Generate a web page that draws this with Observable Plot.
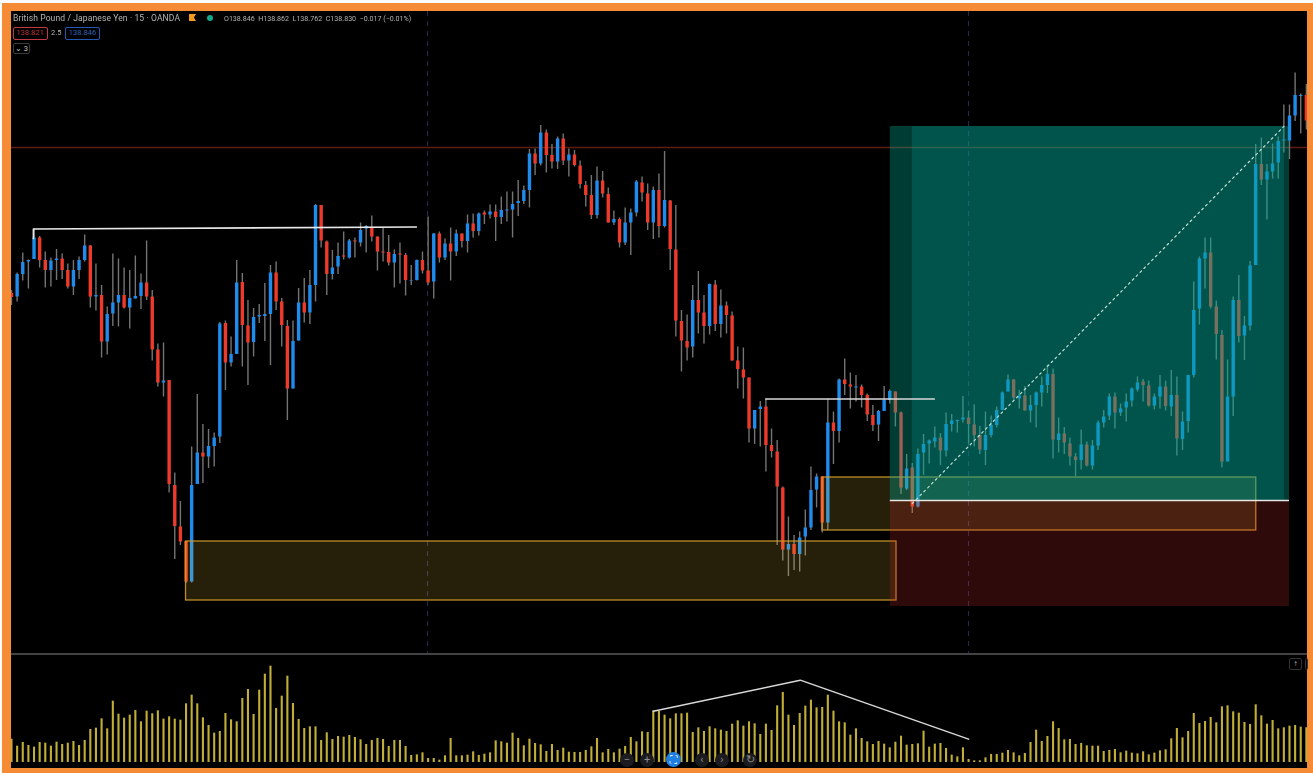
<!DOCTYPE html>
<html>
<head>
<meta charset="utf-8">
<script src="https://cdn.jsdelivr.net/npm/d3@7"></script>
<script src="https://cdn.jsdelivr.net/npm/@observablehq/plot@0.6"></script>
<style>
html,body{margin:0;padding:0;background:#fff;overflow:hidden}
#root{position:relative;width:1313px;height:773px;overflow:hidden;background:#fbfbfb;font-family:Roboto,"Liberation Sans",sans-serif}
#frame{position:absolute;left:2px;top:3px;right:0;bottom:0;background:#f68b35}
#screen{position:absolute;left:11px;top:11px;width:1296px;height:757px;background:#000;overflow:hidden}
#price,#volume{position:absolute;left:0;filter:blur(.5px)}
#price{top:0}
#volume{top:644px}
#sep{position:absolute;left:0;right:0;top:642px;height:2px;background:#434343}
.t{position:absolute;white-space:nowrap;color:#b4b4b4;filter:blur(.3px)}
.box{position:absolute;box-sizing:border-box;border-radius:2px;text-align:center;white-space:nowrap}
.btn{position:absolute;width:14px;height:14px;border-radius:50%;background:#1c1c20;color:#8d8d8d;font-size:11px;line-height:14px;text-align:center}
</style>
</head>
<body>
<div id="root"><div id="frame"></div><div id="screen"></div></div>
<script>
const highs=[138.46,138.495,138.535,138.521,138.583,138.568,138.537,138.525,138.542,138.533,
138.513,138.52,138.527,138.571,138.55,138.513,138.47,138.427,138.533,138.523,
138.505,138.5,138.529,138.493,138.559,138.46,138.353,138.355,138.28,138.095,
138.038,137.958,138.147,138.252,138.192,138.182,138.175,138.396,138.399,138.367,
138.52,138.494,138.44,138.424,138.432,138.474,138.51,138.517,138.444,138.4,
138.399,138.464,138.484,138.5,138.632,138.63,138.559,138.54,138.555,138.577,
138.562,138.565,138.595,138.59,138.609,138.567,138.584,138.57,138.541,138.555,
138.534,138.51,138.521,138.537,138.607,138.574,138.577,138.563,138.585,138.581,
138.573,138.611,138.613,138.615,138.619,138.631,138.631,138.647,138.657,138.657,
138.68,138.669,138.742,138.743,138.79,138.781,138.752,138.767,138.773,138.743,
138.74,138.719,138.678,138.69,138.707,138.698,138.665,138.619,138.605,138.625,
138.623,138.68,138.687,138.673,138.667,138.693,138.738,138.64,138.63,138.42,
138.411,138.47,138.498,138.45,138.473,138.48,138.461,138.437,138.417,138.347,
138.345,138.285,138.22,138.238,138.243,138.183,138.16,138.067,138.007,137.97,
137.977,138.021,138.107,138.093,138.087,138.243,138.217,138.283,138.323,138.295,
138.29,138.271,138.253,138.23,138.22,138.268,138.261,138.257,138.217,138.132,
138.114,138.143,138.172,138.161,138.187,138.174,138.215,138.212,138.201,138.248,
138.219,138.231,138.188,138.217,138.209,138.227,138.257,138.291,138.282,138.26,
138.268,138.25,138.257,138.287,138.311,138.303,138.205,138.186,138.165,138.134,
138.181,138.157,138.16,138.199,138.22,138.253,138.255,138.233,138.253,138.265,
138.287,138.282,138.279,138.253,138.29,138.279,138.3,138.287,138.217,138.29,
138.477,138.527,138.565,138.565,138.439,138.38,138.321,138.447,138.49,138.408,
138.518,138.752,138.765,138.712,138.753,138.767,138.831,138.831,138.895,138.853,138.872];
const opens=[138.454,138.447,138.492,138.517,138.522,138.565,138.52,138.5,138.52,138.523,
138.5,138.467,138.5,138.52,138.549,138.447,138.45,138.357,138.413,138.435,
138.45,138.425,138.443,138.448,138.475,138.447,138.341,138.275,138.28,138.07,
137.987,137.958,137.877,138.072,138.135,138.127,138.148,138.167,138.394,138.315,
138.332,138.476,138.389,138.356,138.407,138.408,138.412,138.495,138.437,138.388,
138.263,138.359,138.435,138.415,138.47,138.63,138.557,138.492,138.507,138.529,
138.525,138.559,138.555,138.583,138.585,138.567,138.537,138.536,138.515,138.533,
138.53,138.479,138.48,138.52,138.499,138.477,138.573,138.525,138.553,138.537,
138.573,138.558,138.593,138.578,138.615,138.611,138.617,138.606,138.619,138.621,
138.634,138.638,138.66,138.733,138.713,138.775,138.73,138.717,138.763,138.719,
138.731,138.709,138.67,138.65,138.61,138.679,138.652,138.595,138.602,138.555,
138.595,138.615,138.675,138.653,138.595,138.66,138.588,138.639,138.541,138.398,
138.358,138.347,138.44,138.415,138.388,138.471,138.392,138.429,138.409,138.319,
138.301,138.285,138.183,138.222,138.227,138.15,138.137,138.065,137.941,137.952,
137.932,137.967,137.985,138.061,138.087,137.995,138.195,138.178,138.281,138.271,
138.265,138.267,138.25,138.21,138.191,138.218,138.24,138.257,138.215,138.063,
138.105,138.027,138.135,138.153,138.157,138.165,138.139,138.192,138.198,138.201,
138.205,138.191,138.17,138.14,138.17,138.19,138.22,138.257,138.281,138.243,
138.249,138.219,138.23,138.255,138.27,138.292,138.16,138.173,138.153,138.127,
138.12,138.151,138.109,138.149,138.195,138.209,138.247,138.215,138.225,138.239,
138.261,138.277,138.269,138.229,138.247,138.267,138.227,138.25,138.162,138.198,
138.29,138.423,138.523,138.535,138.427,138.37,138.117,138.247,138.44,138.369,
138.389,138.51,138.712,138.681,138.697,138.715,138.759,138.759,138.809,138.848,138.85];
const lows=[138.43,138.437,138.479,138.463,138.522,138.505,138.465,138.467,138.48,138.482,
138.463,138.45,138.482,138.517,138.425,138.419,138.325,138.331,138.388,138.387,
138.423,138.383,138.443,138.422,138.44,138.319,138.267,138.247,138.055,137.922,
137.95,137.874,137.875,138.072,138.074,138.104,138.107,138.154,138.26,138.307,
138.332,138.307,138.27,138.327,138.394,138.358,138.31,138.42,138.347,138.2,
138.263,138.359,138.395,138.392,138.437,138.545,138.45,138.481,138.492,138.521,
138.523,138.525,138.547,138.535,138.557,138.499,138.517,138.509,138.465,138.473,
138.449,138.47,138.479,138.493,138.47,138.443,138.515,138.52,138.479,138.528,
138.545,138.535,138.565,138.569,138.592,138.603,138.558,138.592,138.597,138.565,
138.608,138.632,138.625,138.69,138.709,138.695,138.703,138.702,138.71,138.687,
138.707,138.663,138.627,138.602,138.603,138.645,138.595,138.59,138.545,138.55,
138.53,138.607,138.637,138.58,138.562,138.565,138.585,138.5,138.367,138.297,
138.319,138.325,138.373,138.353,138.371,138.378,138.365,138.373,138.319,138.263,
138.243,138.155,138.152,138.147,138.097,138.125,137.95,137.919,137.888,137.9,
137.897,137.929,137.98,138.025,137.975,137.98,138.112,138.155,138.25,138.223,
138.237,138.225,138.198,138.178,138.158,138.218,138.233,138.187,138.052,138.06,
138.014,138.025,138.09,138.113,138.145,138.11,138.127,138.177,138.175,138.195,
138.153,138.147,138.132,138.11,138.165,138.185,138.22,138.257,138.241,138.223,
138.219,138.195,138.185,138.227,138.254,138.123,138.135,138.132,138.109,138.088,
138.101,138.107,138.101,138.14,138.185,138.2,138.183,138.208,138.197,138.227,
138.257,138.237,138.227,138.221,138.223,138.219,138.208,138.129,138.14,138.175,
138.285,138.391,138.463,138.423,138.321,138.105,138.117,138.208,138.355,138.32,
138.379,138.51,138.67,138.601,138.683,138.683,138.735,138.722,138.798,138.773,138.781];
const closes=[138.446,138.492,138.516,138.52,138.565,138.52,138.5,138.519,138.523,138.5,
138.467,138.5,138.52,138.549,138.447,138.45,138.357,138.412,138.435,138.45,
138.425,138.444,138.448,138.475,138.447,138.341,138.275,138.279,138.072,137.988,
137.957,137.877,138.07,138.135,138.127,138.148,138.165,138.393,138.315,138.332,
138.475,138.39,138.355,138.406,138.41,138.412,138.495,138.437,138.39,138.263,
138.358,138.435,138.415,138.47,138.63,138.559,138.492,138.505,138.528,138.527,
138.559,138.557,138.58,138.588,138.567,138.537,138.535,138.515,138.532,138.531,
138.48,138.48,138.52,138.499,138.475,138.573,138.525,138.553,138.537,138.573,
138.558,138.593,138.578,138.613,138.611,138.617,138.606,138.62,138.621,138.632,
138.638,138.66,138.733,138.713,138.775,138.73,138.717,138.763,138.719,138.731,
138.71,138.672,138.65,138.61,138.679,138.653,138.595,138.602,138.555,138.595,
138.615,138.677,138.655,138.595,138.66,138.588,138.64,138.542,138.399,138.359,
138.345,138.44,138.415,138.388,138.472,138.392,138.429,138.41,138.319,138.302,
138.285,138.183,138.22,138.227,138.15,138.138,138.067,137.941,137.952,137.932,
137.965,137.985,138.06,138.087,137.995,138.195,138.178,138.281,138.272,138.267,
138.267,138.25,138.211,138.19,138.218,138.24,138.258,138.215,138.065,138.103,
138.027,138.132,138.152,138.159,138.165,138.139,138.192,138.199,138.2,138.205,
138.192,138.17,138.141,138.17,138.19,138.22,138.255,138.281,138.245,138.249,
138.219,138.23,138.255,138.27,138.292,138.161,138.173,138.155,138.127,138.12,
138.151,138.109,138.149,138.195,138.207,138.247,138.215,138.223,138.237,138.263,
138.275,138.27,138.229,138.247,138.267,138.228,138.25,138.163,138.197,138.29,
138.42,138.523,138.535,138.427,138.372,138.117,138.247,138.44,138.368,138.389,
138.509,138.712,138.681,138.697,138.713,138.758,138.761,138.809,138.85,138.85,138.799];
const volumes=[70,49,60,51,46,60,58,49,61,54,58,63,51,66,99,103,131,101,184,145,
133,142,156,122,154,146,155,130,137,130,127,176,202,176,134,111,88,93,147,128,
122,192,219,144,217,265,289,162,199,259,177,129,102,107,107,66,89,69,78,76,
81,75,68,54,66,72,69,48,66,66,48,21,23,29,12,12,7,20,72,20,
20,22,32,21,25,29,65,62,58,88,72,50,70,57,53,33,54,36,43,31,
30,30,36,47,72,29,39,29,40,48,75,62,92,90,155,153,142,131,146,146,
148,90,104,93,107,101,97,93,115,125,109,122,116,84,115,96,170,210,142,111,
147,169,187,164,165,202,154,122,119,82,101,72,62,54,63,55,44,61,79,52,
54,56,94,46,55,57,42,22,17,44,9,5,5,14,24,24,28,36,29,20,
27,60,97,63,78,122,102,68,69,54,57,50,49,49,33,36,39,29,34,28,
26,32,23,28,35,38,71,102,74,93,147,117,123,135,119,167,170,152,148,120,
114,173,140,115,126,101,104,109,111,106,104];

const header="British Pound / Japanese Yen · 15 · OANDA";
const ohlcLabel="O138.846  H138.862  L138.762  C138.830  −0.017 (−0.01%)";
const bidLabel="138.821", spreadLabel="2.5", askLabel="138.846", collapseLabel="⌄ 3";

const sessionBreaks=[73.9,170];
const resistanceLevel=[138.746];
const swingA=[{i:3.9,p:138.564},{i:3.9,p:138.583},{i:71.9,p:138.587}];
const swingB=[{i:134,p:138.243},{i:163.9,p:138.243}];
const demandZones=[{a:31,b:157.2,top:137.958,bottom:137.84},{a:144.05,b:221.1,top:138.086,bottom:137.98}];
const longOuter={a:156.1,b:227,top:138.788,entry:138.04,stop:137.828};
const longInner={a:160,b:226.1};
const targetPath=[{i:160,p:138.034},{i:226,p:138.788}];
const volumeTrend=[{i:114,v:154},{i:140.1,v:247},{i:170,v:70}];

const candles=highs.map((h,i)=>({i,high:h,open:opens[i],low:lows[i],close:closes[i]}));
const bars=volumes.map((v,i)=>({i,v}));
const xDomain=[0,230.2];
const BLUE="#1f8bec",RED="#ee3a2a";

const pricePlot=Plot.plot({
  width:1296,height:643,margin:0,
  style:{background:"transparent",overflow:"hidden"},
  x:{domain:xDomain,axis:null},
  y:{domain:[137.732,139.018],axis:null},
  marks:[
    Plot.ruleX(sessionBreaks,{x:d=>d,stroke:"#2b2b58",strokeWidth:1,strokeDasharray:"5,5"}),
    Plot.ruleY(resistanceLevel,{y:d=>d,stroke:"#601c10",strokeWidth:1.3}),
    Plot.ruleX(candles,{x:"i",y1:"low",y2:"high",stroke:"#747474",strokeWidth:1.4}),
    Plot.ruleX(candles,{x:"i",y1:"open",y2:"close",stroke:d=>d.close>=d.open?BLUE:RED,strokeWidth:3.4}),
    Plot.rect(demandZones,{x1:"a",x2:"b",y1:"bottom",y2:"top",fill:"#ffd740",fillOpacity:.15,stroke:"#d09a2a",strokeWidth:1.3,strokeOpacity:.9}),
    Plot.rect([longOuter],{x1:"a",x2:"b",y1:"entry",y2:"top",fill:"#00a896",fillOpacity:.35}),
    Plot.rect([{...longInner,entry:longOuter.entry,top:longOuter.top}],{x1:"a",x2:"b",y1:"entry",y2:"top",fill:"#00a896",fillOpacity:.23}),
    Plot.rect([longOuter],{x1:"a",x2:"b",y1:"stop",y2:"entry",fill:"#c62828",fillOpacity:.24}),
    Plot.ruleY([longOuter.entry],{x1:longOuter.a,x2:longOuter.b,y:d=>d,stroke:"#e6e6e6",strokeWidth:1.3}),
    Plot.line(targetPath,{x:"i",y:"p",stroke:"#c2dcd2",strokeWidth:1.2,strokeDasharray:"2,3.5"}),
    Plot.line(swingA,{x:"i",y:"p",stroke:"#e8e8e8",strokeWidth:1.7}),
    Plot.line(swingB,{x:"i",y:"p",stroke:"#d8d8d8",strokeWidth:1.7})
  ]
});
const volumePlot=Plot.plot({
  width:1296,height:113,marginTop:0,marginLeft:0,marginRight:0,marginBottom:6,
  style:{background:"transparent",overflow:"hidden"},
  x:{domain:xDomain,axis:null},
  y:{domain:[0,321],axis:null},
  marks:[
    Plot.ruleX(bars,{x:"i",y1:0,y2:"v",stroke:"#c0ae38",strokeWidth:2.1}),
    Plot.line(volumeTrend,{x:"i",y:"v",stroke:"#d8d8d8",strokeWidth:1.5})
  ]
});
pricePlot.id="price";volumePlot.id="volume";
const screen_=document.getElementById("screen");
screen_.appendChild(pricePlot);
const sep=document.createElement("div");sep.id="sep";screen_.appendChild(sep);
screen_.appendChild(volumePlot);

function add(cls,css,text){
  const el=document.createElement("div");el.className=cls;el.style.cssText=css;
  if(text)el.textContent=text;
  document.getElementById("root").appendChild(el);return el;
}
add("t","left:13px;top:12.5px;font-size:8.55px;letter-spacing:.1px",header);
add("","position:absolute;left:189px;top:14px;width:7px;height:7px;background:#f59a1f;clip-path:polygon(0 0,100% 0,70% 50%,100% 100%,0 100%)");
add("","position:absolute;left:207px;top:14.5px;width:6px;height:6px;border-radius:50%;background:#12a98f");
add("t","left:224px;top:14px;font-size:7.1px;white-space:pre",ohlcLabel);
add("box","left:12.5px;top:27px;width:35px;height:13px;border:1.3px solid #c23a45;color:#b5343e;font-size:7.5px;line-height:10.5px",bidLabel);
add("t","left:51px;top:28px;font-size:7.5px",spreadLabel);
add("box","left:65px;top:27px;width:35px;height:13px;border:1.3px solid #2159b5;color:#2c62b8;font-size:7.5px;line-height:10.5px",askLabel);
add("box","left:13px;top:43px;width:17px;height:11px;border:1px solid #3a3a3a;color:#c4c4c4;font-size:7.5px;line-height:9px",collapseLabel);
add("box","left:1289px;top:658px;width:13px;height:12px;border:1px solid #333;color:#d0d0d0;font-size:8px;line-height:10px","↑");
add("box","left:1305px;top:658px;width:3px;height:12px;border:1px solid #333");
const controls=[[620,"−"],[640,"+"],[695,"‹"],[715,"›"],[743,"↻"]];
controls.forEach(([x,s])=>add("btn",`left:${x}px;top:753px`,s));
add("btn","left:666px;top:752px;width:15px;height:15px;background:#1f7fe0;color:#fff;font-size:10px;line-height:15px","⛶");
</script>
</body>
</html>
